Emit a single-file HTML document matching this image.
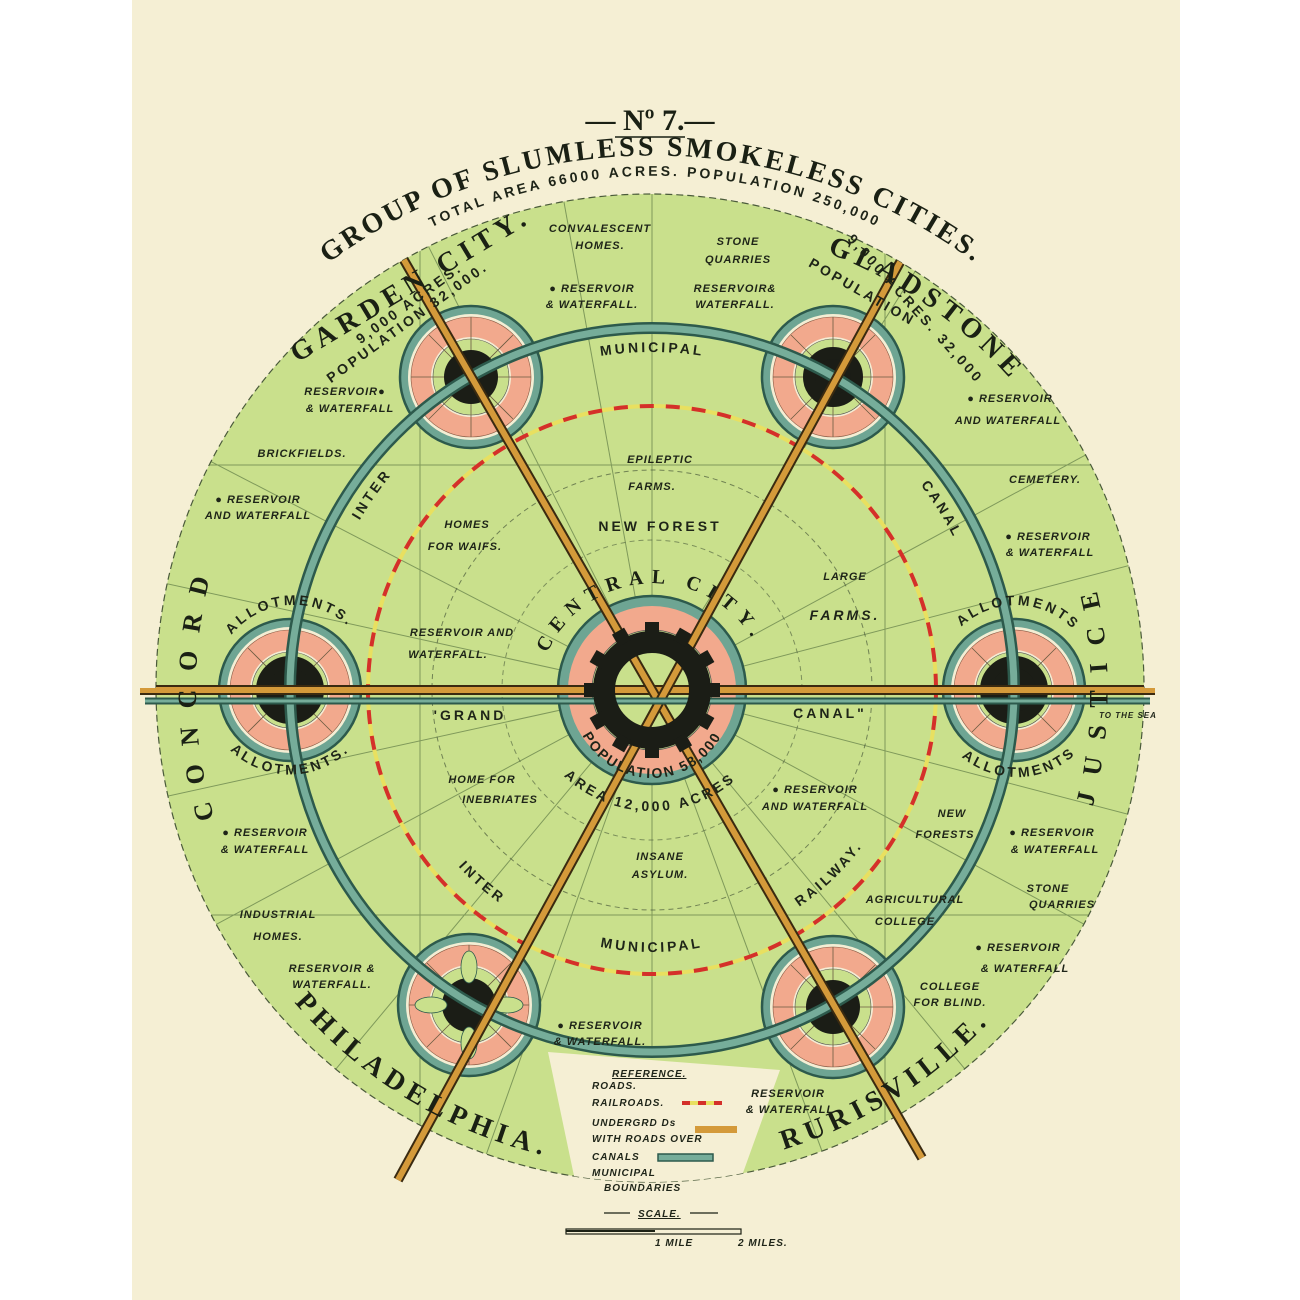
<!DOCTYPE html>
<html><head><meta charset="utf-8"><style>
html,body{margin:0;padding:0;background:#fff;}
svg{display:block}
.s{font-family:"Liberation Sans",sans-serif;font-weight:bold;font-style:italic;font-size:11px;fill:#1e2418;text-anchor:middle;letter-spacing:1px}
.m{font-family:"Liberation Sans",sans-serif;font-weight:bold;font-size:14px;fill:#1e2418;text-anchor:middle;letter-spacing:3px}
.b{font-family:"Liberation Serif",serif;font-weight:bold;fill:#1a2014;letter-spacing:6px}
</style></head><body>
<svg width="1300" height="1300" viewBox="0 0 1300 1300" xmlns="http://www.w3.org/2000/svg">
<defs>
<clipPath id="big"><circle cx="650" cy="688" r="494"/></clipPath>
<clipPath id="rail"><circle cx="650" cy="688" r="494"/><rect x="140" y="688" width="1020" height="520"/></clipPath>
<path id="pTitle" d="M 262 322 A 540 540 0 0 1 1042 322"/>
<path id="pSub" d="M 390 250 A 510 510 0 0 1 920 250"/>
<path id="pGlad" d="M 770 235 A 470 470 0 0 1 1050 430"/>
<path id="pConcord" d="M 225 850 A 455 455 0 0 1 225 530"/>
<path id="pJustice" d="M 1075 860 A 460 460 0 0 0 1075 520"/>
<path id="pPhil" d="M 262 960 A 472 472 0 0 0 600 1165"/>
<path id="pRuri" d="M 715 1165 A 472 472 0 0 0 1035 965"/>
<path id="pRingCW" d="M 314 690 A 338 338 0 1 1 990 690 A 338 338 0 1 1 314 690"/>
<path id="pInnerCCW" d="M 390 690 A 262 262 0 1 0 914 690 A 262 262 0 1 0 390 690"/>
<path id="pCentral" d="M 538 690 A 116 116 0 0 1 768 680"/>
<path id="pPop" d="M 574 700 A 78 78 0 0 0 730 700"/>
<path id="pArea" d="M 525 700 A 128 128 0 0 0 778 705"/>
<path id="pAlC1" d="M 218 660 A 80 80 0 0 1 366 650"/>
<path id="pAlC2" d="M 210 720 A 86 86 0 0 0 370 720"/>
<path id="pAlJ1" d="M 942 655 A 80 80 0 0 1 1092 660"/>
<path id="pAlJ2" d="M 938 725 A 86 86 0 0 0 1098 720"/>
<g id="sat">
<circle r="71" fill="#6ea593" stroke="#2d5a4c" stroke-width="2.5"/>
<circle r="63" fill="#f4eed4"/>
<circle r="60" fill="#f2a98d" stroke="#8a5a44" stroke-width="0.6"/>
<circle r="40" fill="#f4eed4"/>
<circle r="38" fill="#c9e08c" stroke="#555" stroke-width="0.6"/>
<g stroke="#6a5a40" stroke-width="0.8">
<line x1="-60" y1="0" x2="60" y2="0"/><line x1="0" y1="-60" x2="0" y2="60"/>
<line x1="-42" y1="-42" x2="42" y2="42"/><line x1="-42" y1="42" x2="42" y2="-42"/>
</g>
<circle r="27" fill="#1b1d16"/>
</g>
</defs>
<rect x="132" y="0" width="1048" height="1300" fill="#f5efd4"/>
<circle cx="650" cy="688" r="494" fill="#c9e08c" stroke="#4a5a3a" stroke-width="1.2" stroke-dasharray="7 4"/>
<g clip-path="url(#big)">
<polygon points="548,1052 780,1070 735,1195 578,1195" fill="#f5efd4"/>
<g stroke="#4e6a3a" stroke-width="1" opacity="0.6">
<line x1="652" y1="690" x2="652" y2="180"/>
<line x1="652" y1="690" x2="560" y2="180"/>
<line x1="652" y1="690" x2="960" y2="200"/>
<line x1="652" y1="690" x2="400" y2="190"/>
<line x1="652" y1="690" x2="1150" y2="420"/>
<line x1="652" y1="690" x2="150" y2="430"/>
<line x1="652" y1="690" x2="1150" y2="560"/>
<line x1="652" y1="690" x2="150" y2="580"/>
<line x1="652" y1="690" x2="1150" y2="820"/>
<line x1="652" y1="690" x2="150" y2="800"/>
<line x1="652" y1="690" x2="1150" y2="960"/>
<line x1="652" y1="690" x2="150" y2="960"/>
<line x1="652" y1="690" x2="260" y2="1160"/>
<line x1="652" y1="690" x2="1040" y2="1160"/>
<line x1="652" y1="690" x2="652" y2="1050"/>
<line x1="652" y1="690" x2="840" y2="1200"/>
<line x1="652" y1="690" x2="470" y2="1200"/>
<line x1="150" y1="465" x2="1150" y2="465"/>
<line x1="150" y1="915" x2="1150" y2="915"/>
<line x1="420" y1="190" x2="420" y2="1190"/>
<line x1="885" y1="190" x2="885" y2="1190"/>
</g>
</g>
<circle cx="652" cy="690" r="220" fill="none" stroke="#4a5a3a" stroke-width="1" stroke-dasharray="5 4" opacity="0.7"/>
<circle cx="652" cy="690" r="150" fill="none" stroke="#4a5a3a" stroke-width="1" stroke-dasharray="5 4" opacity="0.6"/>
<circle cx="652" cy="690" r="284" fill="none" stroke="#e8e060" stroke-width="4"/>
<circle cx="652" cy="690" r="284" fill="none" stroke="#d4302a" stroke-width="4" stroke-dasharray="14 12"/>
<use href="#sat" x="471" y="377"/>
<use href="#sat" x="833" y="377"/>
<use href="#sat" x="290" y="690"/>
<use href="#sat" x="1014" y="690"/>
<use href="#sat" x="469" y="1005"/>
<use href="#sat" x="833" y="1007"/>
<g fill="#c9e08c" stroke="#2d5a4c" stroke-width="0.8">
<ellipse cx="469" cy="967" rx="8" ry="16"/><ellipse cx="469" cy="1043" rx="8" ry="16"/>
<ellipse cx="431" cy="1005" rx="16" ry="8"/><ellipse cx="507" cy="1005" rx="16" ry="8"/>
</g>
<g fill="none" stroke="#1b1d16" stroke-width="12">
<circle cx="290" cy="690" r="28"/><circle cx="1014" cy="690" r="28"/><circle cx="833" cy="377" r="24"/>
</g>
<circle cx="652" cy="690" r="362" fill="none" stroke="#2d5a4c" stroke-width="12"/>
<circle cx="652" cy="690" r="362" fill="none" stroke="#76ad9a" stroke-width="7"/>
<circle cx="652" cy="690" r="94" fill="#6ea593" stroke="#2d5a4c" stroke-width="2.5"/>
<circle cx="652" cy="690" r="84" fill="#f2a98d"/>
<circle cx="652" cy="690" r="60" fill="#c9e08c" stroke="#555" stroke-width="0.8"/>
<g clip-path="url(#rail)">
<line x1="140" y1="690" x2="1155" y2="690" stroke="#3a2a10" stroke-width="10"/>
<line x1="140" y1="690" x2="1155" y2="690" stroke="#d49a3a" stroke-width="6"/>
<line x1="382" y1="222" x2="922" y2="1158" stroke="#3a2a10" stroke-width="10"/>
<line x1="382" y1="222" x2="922" y2="1158" stroke="#d49a3a" stroke-width="6"/>
<line x1="922" y1="222" x2="398" y2="1180" stroke="#3a2a10" stroke-width="10"/>
<line x1="922" y1="222" x2="398" y2="1180" stroke="#d49a3a" stroke-width="6"/>
</g>
<line x1="145" y1="701" x2="1150" y2="701" stroke="#2d5a4c" stroke-width="7"/>
<line x1="145" y1="701" x2="1150" y2="701" stroke="#76ad9a" stroke-width="3"/>
<g fill="#1b1d16">
<circle cx="652" cy="690" r="48" fill="none" stroke="#1b1d16" stroke-width="22"/>
<rect x="645" y="622" width="14" height="14" transform="rotate(0 652 690)"/>
<rect x="645" y="622" width="14" height="14" transform="rotate(30 652 690)"/>
<rect x="645" y="622" width="14" height="14" transform="rotate(60 652 690)"/>
<rect x="645" y="622" width="14" height="14" transform="rotate(90 652 690)"/>
<rect x="645" y="622" width="14" height="14" transform="rotate(120 652 690)"/>
<rect x="645" y="622" width="14" height="14" transform="rotate(150 652 690)"/>
<rect x="645" y="622" width="14" height="14" transform="rotate(180 652 690)"/>
<rect x="645" y="622" width="14" height="14" transform="rotate(210 652 690)"/>
<rect x="645" y="622" width="14" height="14" transform="rotate(240 652 690)"/>
<rect x="645" y="622" width="14" height="14" transform="rotate(270 652 690)"/>
<rect x="645" y="622" width="14" height="14" transform="rotate(300 652 690)"/>
<rect x="645" y="622" width="14" height="14" transform="rotate(330 652 690)"/>
</g>
<text x="650" y="130" font-family="Liberation Serif,serif" font-size="30" font-weight="bold" text-anchor="middle" fill="#1a2014">— Nº 7.—</text>
<line x1="615" y1="137" x2="685" y2="137" stroke="#1a2014" stroke-width="1.5"/>
<text class="b" font-size="28"><textPath href="#pTitle" startOffset="50%" text-anchor="middle" letter-spacing="3">GROUP OF SLUMLESS SMOKELESS CITIES.</textPath></text>
<text class="m" font-size="15"><textPath href="#pSub" startOffset="50%" text-anchor="middle">TOTAL AREA 66000 ACRES.      POPULATION 250,000</textPath></text>
<text class="b" font-size="28" text-anchor="middle" transform="translate(415,292) rotate(-31)" letter-spacing="4">GARDEN CITY.</text>
<text class="b" font-size="28"><textPath href="#pGlad" startOffset="50%" text-anchor="middle">GLADSTONE</textPath></text>
<text class="b" font-size="26"><textPath href="#pConcord" startOffset="50%" text-anchor="middle" letter-spacing="18">CONCORD</textPath></text>
<text class="b" font-size="26"><textPath href="#pJustice" startOffset="50%" text-anchor="middle" letter-spacing="18">JUSTICE</textPath></text>
<text class="b" font-size="28"><textPath href="#pPhil" startOffset="50%" text-anchor="middle">PHILADELPHIA.</textPath></text>
<text class="b" font-size="28"><textPath href="#pRuri" startOffset="50%" text-anchor="middle">RURISVILLE.</textPath></text>
<text class="m" font-size="17" letter-spacing="6"><textPath href="#pRingCW" startOffset="206" text-anchor="middle">INTER</textPath></text>
<text class="m" font-size="17" letter-spacing="6"><textPath href="#pRingCW" startOffset="531" text-anchor="middle">MUNICIPAL</textPath></text>
<text class="m" font-size="17" letter-spacing="6"><textPath href="#pRingCW" startOffset="873" text-anchor="middle">CANAL</textPath></text>
<text class="m" font-size="17" letter-spacing="6"><textPath href="#pInnerCCW" startOffset="222" text-anchor="middle">INTER</textPath></text>
<text class="m" font-size="17" letter-spacing="6"><textPath href="#pInnerCCW" startOffset="411" text-anchor="middle">MUNICIPAL</textPath></text>
<text class="m" font-size="17" letter-spacing="6"><textPath href="#pInnerCCW" startOffset="612" text-anchor="middle">RAILWAY.</textPath></text>
<text class="b" font-size="20"><textPath href="#pCentral" startOffset="50%" text-anchor="middle" letter-spacing="8">CENTRAL CITY.</textPath></text>
<text class="m" font-size="14"><textPath href="#pPop" startOffset="50%" text-anchor="middle" letter-spacing="2">POPULATION 58,000</textPath></text>
<text class="m" font-size="16"><textPath href="#pArea" startOffset="50%" text-anchor="middle" letter-spacing="3">AREA   12,000   ACRES</textPath></text>
<text class="m" font-size="13"><textPath href="#pAlC1" startOffset="50%" text-anchor="middle">ALLOTMENTS.</textPath></text>
<text class="m" font-size="13"><textPath href="#pAlC2" startOffset="50%" text-anchor="middle">ALLOTMENTS.</textPath></text>
<text class="m" font-size="13"><textPath href="#pAlJ1" startOffset="50%" text-anchor="middle">ALLOTMENTS</textPath></text>
<text class="m" font-size="13"><textPath href="#pAlJ2" startOffset="50%" text-anchor="middle">ALLOTMENTS</textPath></text>
<text class="m" x="470" y="720" font-size="15">'GRAND</text>
<text class="m" x="830" y="718" font-size="15">CANAL"</text>
<text class="m" font-size="11" letter-spacing="1" transform="translate(412,307) rotate(-36)">9,000 ACRES.</text>
<text class="m" font-size="11" letter-spacing="1" transform="translate(410,326) rotate(-36)">POPULATION 32,000.</text>
<text class="m" font-size="11" letter-spacing="1" transform="translate(860,296) rotate(30)">POPULATION</text>
<text class="m" font-size="11" letter-spacing="1" transform="translate(912,312) rotate(48)">9,000 ACRES. 32,000</text>
<g class="s">
<text x="600" y="232">CONVALESCENT</text><text x="600" y="249">HOMES.</text>
<text x="592" y="292">● RESERVOIR</text><text x="592" y="308">&amp; WATERFALL.</text>
<text x="738" y="245">STONE</text><text x="738" y="263">QUARRIES</text>
<text x="735" y="292">RESERVOIR&amp;</text><text x="735" y="308">WATERFALL.</text>
<text x="345" y="395">RESERVOIR●</text><text x="350" y="412">&amp; WATERFALL</text>
<text x="302" y="457">BRICKFIELDS.</text>
<text x="258" y="503">● RESERVOIR</text><text x="258" y="519">AND WATERFALL</text>
<text x="265" y="836">● RESERVOIR</text><text x="265" y="853">&amp; WATERFALL</text>
<text x="278" y="918">INDUSTRIAL</text><text x="278" y="940">HOMES.</text>
<text x="332" y="972">RESERVOIR &amp;</text><text x="332" y="988">WATERFALL.</text>
<text x="1010" y="402">● RESERVOIR</text><text x="1008" y="424">AND WATERFALL</text>
<text x="1045" y="483">CEMETERY.</text>
<text x="1048" y="540">● RESERVOIR</text><text x="1050" y="556">&amp; WATERFALL</text>
<text x="952" y="817">NEW</text><text x="945" y="838">FORESTS</text>
<text x="1052" y="836">● RESERVOIR</text><text x="1055" y="853">&amp; WATERFALL</text>
<text x="1048" y="892">STONE</text><text x="1062" y="908">QUARRIES</text>
<text x="915" y="903">AGRICULTURAL</text><text x="905" y="925">COLLEGE</text>
<text x="1018" y="951">● RESERVOIR</text><text x="1025" y="972">&amp; WATERFALL</text>
<text x="950" y="990">COLLEGE</text><text x="950" y="1006">FOR BLIND.</text>
<text x="600" y="1029">● RESERVOIR</text><text x="600" y="1045">&amp; WATERFALL.</text>
<text x="788" y="1097">RESERVOIR</text><text x="790" y="1113">&amp; WATERFALL</text>
<text x="1128" y="718" font-size="8">TO THE SEA</text>
<text x="660" y="463">EPILEPTIC</text><text x="652" y="490">FARMS.</text>
<text x="660" y="531" class="m" style="font-style:normal" font-size="13">NEW FOREST</text>
<text x="467" y="528">HOMES</text><text x="465" y="550">FOR WAIFS.</text>
<text x="845" y="580">LARGE</text><text x="845" y="620" class="m" font-size="13">FARMS.</text>
<text x="462" y="636">RESERVOIR AND</text><text x="448" y="658">WATERFALL.</text>
<text x="482" y="783">HOME FOR</text><text x="500" y="803">INEBRIATES</text>
<text x="815" y="793">● RESERVOIR</text><text x="815" y="810">AND WATERFALL</text>
<text x="660" y="860">INSANE</text><text x="660" y="878">ASYLUM.</text>
</g>
<g class="s" style="text-anchor:start;font-size:10px">
<text x="612" y="1077" style="text-decoration:underline">REFERENCE.</text>
<text x="592" y="1089">ROADS.</text>
<text x="592" y="1106">RAILROADS.</text>
<text x="592" y="1126">UNDERGRD Ds</text>
<text x="592" y="1142">WITH ROADS OVER</text>
<text x="592" y="1160">CANALS</text>
<text x="592" y="1176">MUNICIPAL</text>
<text x="604" y="1191">BOUNDARIES</text>
<text x="638" y="1217" style="text-decoration:underline">SCALE.</text>
<text x="655" y="1246">1 MILE</text>
<text x="738" y="1246">2 MILES.</text>
</g>
<line x1="682" y1="1103" x2="722" y2="1103" stroke="#e8e060" stroke-width="4"/>
<line x1="682" y1="1103" x2="722" y2="1103" stroke="#d4302a" stroke-width="4" stroke-dasharray="8 8"/>
<rect x="695" y="1126" width="42" height="7" fill="#d49a3a"/>
<rect x="658" y="1154" width="55" height="7" fill="#76ad9a" stroke="#2d5a4c" stroke-width="1.5"/>
<line x1="604" y1="1213" x2="630" y2="1213" stroke="#1a2014" stroke-width="1.2"/>
<line x1="690" y1="1213" x2="718" y2="1213" stroke="#1a2014" stroke-width="1.2"/>
<rect x="566" y="1229" width="175" height="5" fill="none" stroke="#1a2014" stroke-width="1.2"/>
<line x1="566" y1="1231" x2="655" y2="1231" stroke="#1a2014" stroke-width="2"/>
</svg>
</body></html>
